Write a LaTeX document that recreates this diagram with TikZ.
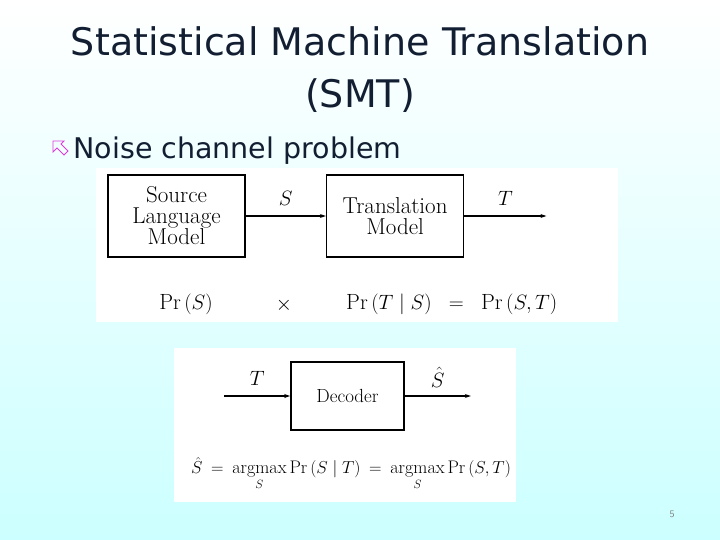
\documentclass[tikz,border=0pt]{standalone}
\usepackage{amsmath}
\usepackage{fontspec}
\usepackage{tikz}
\usetikzlibrary{arrows.meta,positioning}
\newfontfamily\slidefont{DejaVu Sans}
\definecolor{titleblue}{RGB}{18,30,50}
\definecolor{bottomcyan}{RGB}{204,255,255}
\definecolor{bulletpink}{RGB}{220,60,220}

\begin{document}
\begin{tikzpicture}[
    x=1pt, y=-1pt,
    node distance=80pt,
    box/.style={draw, line width=1.6pt, minimum width=137pt, minimum height=82pt, align=center, font=\fontsize{23}{21}\selectfont, inner sep=0pt},
    flow/.style={line width=1.6pt, -{Stealth[length=6pt, width=4pt]}},
    panel/.style={fill=white, draw=none},
    eq/.style={font=\fontsize{22}{24}\selectfont, inner sep=0pt},
    smalleq/.style={font=\fontsize{20}{22}\selectfont, inner sep=0pt}
]
\useasboundingbox (0,0) rectangle (720,540);
% Slide background
\shade[top color=white, bottom color=bottomcyan] (0,0) rectangle (720,540);

% Title
\node[titleblue, font=\slidefont\fontsize{38}{52}\selectfont, align=center] (title) at (360,70)
    {Statistical Machine Translation\\(SMT)};

% Bullet
\draw[bulletpink, line width=0.8pt, line join=miter]
    (53,141) -- (64,141) -- (61,144) -- (68,151) -- (64,155) -- (57,148) -- (53,152) -- cycle;
\node[titleblue, font=\slidefont\fontsize{28.5}{32}\selectfont, anchor=west] (noise) at (70,151) {Noise channel problem};

% Panels
\fill[panel] (96,168) rectangle (618,322);
\fill[panel] (174,348) rectangle (516,502);

% Noisy channel model
\node[box] (src) at (176.5,216) {Source\\Language\\Model};
\node[box, right=of src] (trans) {Translation\\Model};
\coordinate[right=82pt of trans] (out);

\draw[flow] (src) -- node[above=10pt, eq] {$S$} (trans);
\draw[flow] (trans) -- node[above=10pt, eq] {$T$} (out);

\node[eq] (prs) at (186,304) {$\Pr\,(S)$};
\node[eq] (times) at (284,305) {$\times$};
\node[eq, anchor=west] (joint) at (346,304) {$\Pr\,(T\mid S) \;\;=\;\; \Pr\,(S,T)$};

% Decoder
\node[box, minimum width=113pt, minimum height=68pt, font=\fontsize{19}{19}\selectfont] (dec) at (347.5,396) {Decoder};
\coordinate[left=66pt of dec] (tin);
\coordinate[right=66pt of dec] (sout);

\draw[flow] (tin) -- node[above=10pt, smalleq] {$T$} (dec);
\draw[flow] (dec) -- node[above=8pt, smalleq] {$\hat{S}$} (sout);

\node[smalleq, font=\fontsize{18.2}{20}\selectfont] (argmax) at (351,474)
    {$\displaystyle \hat{S} \:=\: \mathop{\mathrm{argmax}}_{S} \Pr\,(S\mid T) \:=\: \mathop{\mathrm{argmax}}_{S} \Pr\,(S,T)$};

% Page number
\node[gray, font=\sffamily\fontsize{10}{12}\selectfont] (page) at (672,514) {5};
\end{tikzpicture}
\end{document}
